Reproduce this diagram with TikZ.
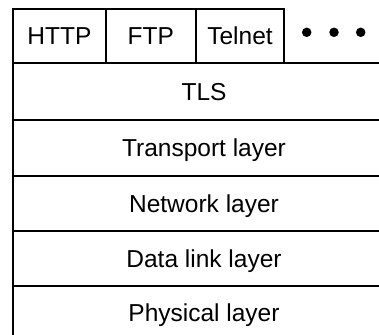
\documentclass[tikz,border=0pt]{standalone}
\usepackage{fontspec}
\setmainfont{Liberation Sans}
\begin{document}
\begin{tikzpicture}[x=1pt,y=-1pt,
  rule/.style={line width=1.7pt,line cap=rect},
  lbl/.style={anchor=base,inner sep=0pt,font=\fontsize{24.5}{26}\selectfont},
  dot/.style={circle,fill=black,inner sep=0pt,minimum size=9.5pt}]
\useasboundingbox (0,0) rectangle (379,334);
\clip (0,0) rectangle (379,334);
% frame lines
\draw[rule] (13,9) -- (284,9);
\draw[rule] (13,9) -- (13,340);
\draw[rule] (105.7,9) -- (105.7,63);
\draw[rule] (195.7,9) -- (195.7,63);
\draw[rule] (284,9) -- (284,63);
\foreach \y in {63,120,176,231,286} \draw[rule] (13,\y) -- (385,\y);
% labels
\node[lbl] (http) at (59.4,44.6) {HTTP};
\node[lbl] (ftp) at (150.7,44.6) {FTP};
\node[lbl] (telnet) at (240,44.6) {Telnet};
\node[dot] (d1) at (306.7,32.3) {};
\node[dot] (d2) at (334,32.3) {};
\node[dot] (d3) at (360.7,32.3) {};
\node[lbl] (tls) at (204,100.3) {TLS};
\node[lbl] (transport) at (204,156.8) {Transport layer};
\node[lbl] (network) at (204,212.3) {Network layer};
\node[lbl] (datalink) at (204,267.3) {Data link layer};
\node[lbl] (physical) at (204,321.8) {Physical layer};
\end{tikzpicture}
\end{document}
